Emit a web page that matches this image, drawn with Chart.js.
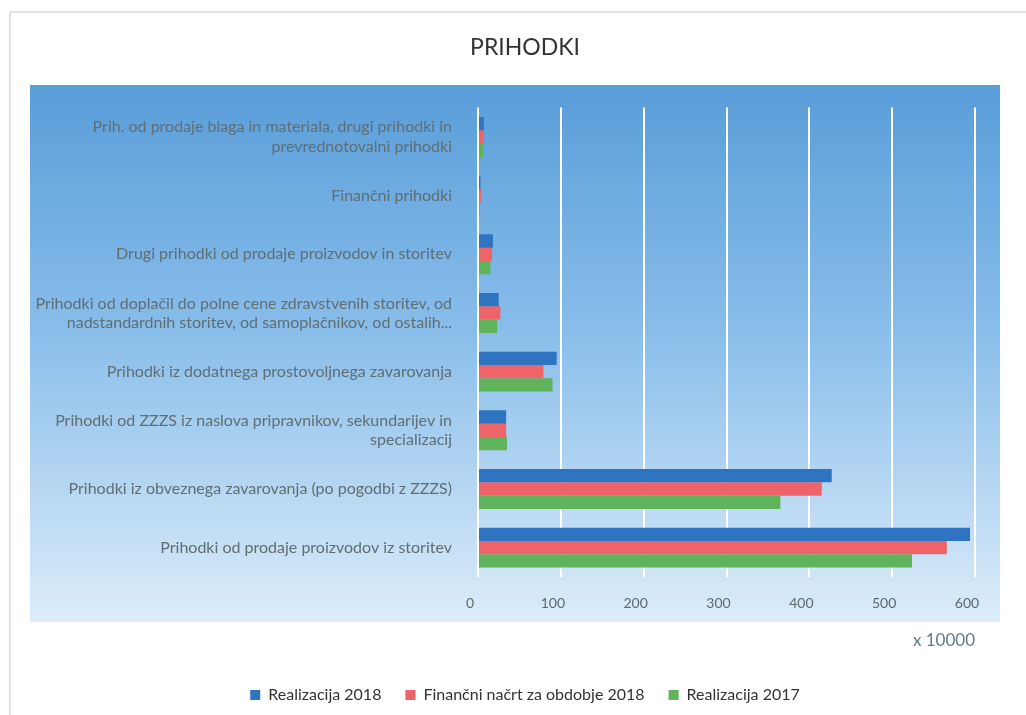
<!DOCTYPE html>
<html lang="sl">
<head>
  <meta charset="UTF-8">
  <title>Prihodki</title>
  <script src="https://cdn.jsdelivr.net/npm/chart.js"></script>
  <style>
    html, body { margin: 0; padding: 0; background: #fff; }
    .wrap { width: 1026px; height: 715px; }
  </style>
</head>
<body>
  <div class="wrap"><canvas id="prihodkiChart" width="1026" height="715"></canvas></div>

  <script>
    // categories, top to bottom
    const categories = [
      ['Prih. od prodaje blaga in materiala, drugi prihodki in', 'prevrednotovalni prihodki'],
      'Finančni prihodki',
      'Drugi prihodki od prodaje proizvodov in storitev',
      ['Prihodki od doplačil do polne cene zdravstvenih storitev, od', 'nadstandardnih storitev, od samoplačnikov, od ostalih...'],
      'Prihodki iz dodatnega prostovoljnega zavarovanja',
      ['Prihodki od ZZZS iz naslova pripravnikov, sekundarijev in', 'specializacij'],
      'Prihodki iz obveznega zavarovanja (po pogodbi z ZZZS)',
      'Prihodki od prodaje proizvodov iz storitev'
    ];

    // values in units of 10000
    const realizacija2018 = [7, 3, 18, 25, 95, 34, 427, 594];
    const financniNacrt2018 = [7, 4, 17, 27, 79, 34, 415, 566];
    const realizacija2017 = [6, 2, 15, 23, 90, 35, 365, 524];

    const xTicks = [0, 100, 200, 300, 400, 500, 600];

    const backdrop = {
      id: 'backdrop',
      afterLayout(chart) {
        // let the long category labels run out to the left edge of the plot panel
        chart.scales.y.left = 30;
      },
      beforeDraw(chart) {
        const ctx = chart.ctx;
        ctx.save();
        ctx.strokeStyle = '#d9d9d9';
        ctx.lineWidth = 1.5;
        ctx.strokeRect(10, 12, 1030, 720);
        const g = ctx.createLinearGradient(0, 85, 0, 622);
        g.addColorStop(0, '#599dd9');
        g.addColorStop(0.45, '#88bdea');
        g.addColorStop(1, '#dcecf9');
        ctx.fillStyle = g;
        ctx.fillRect(30, 85, 970, 537);
        ctx.restore();
      }
    };

    new Chart(document.getElementById('prihodkiChart').getContext('2d'), {
      type: 'bar',
      data: {
        labels: categories,
        datasets: [{
          label: 'Realizacija 2018',
          data: realizacija2018,
          backgroundColor: '#2f74c0'
        }, {
          label: 'Finančni načrt za obdobje 2018',
          data: financniNacrt2018,
          backgroundColor: '#ee6469'
        }, {
          label: 'Realizacija 2017',
          data: realizacija2017,
          backgroundColor: '#5fb35a'
        }]
      },
      options: {
        indexAxis: 'y',
        responsive: false,
        animation: false,
        devicePixelRatio: 1,
        categoryPercentage: 0.68,
        barPercentage: 1.0,
        layout: { padding: { left: 75, right: 51, bottom: 2 } },
        scales: {
          x: {
            min: 0,
            max: 600,
            afterBuildTicks: (scale) => { scale.ticks = xTicks.map(v => ({ value: v })); },
            grid: { color: '#ffffff', lineWidth: 2, drawTicks: false },
            border: { display: false },
            ticks: {
              color: '#5b6a6c',
              font: { family: 'Lato', size: 14 },
              padding: 18,
              labelOffset: -8
            },
            title: {
              display: true,
              text: 'x 10000',
              align: 'end',
              color: '#5d7e86',
              font: { family: 'Lato', size: 17 },
              padding: { top: 10, bottom: 12 }
            },
            afterFit: (scale) => { scale.height = 86; }
          },
          y: {
            grid: { display: false },
            border: { display: false },
            ticks: {
              color: '#5f6e73',
              font: { family: 'Lato', size: 16 },
              padding: 18
            },
            afterFit: (scale) => { scale.width = 403; }
          }
        },
        plugins: {
          title: {
            display: true,
            text: 'PRIHODKI',
            color: '#333333',
            font: { family: 'Lato', size: 23, weight: 'normal' },
            padding: { top: 34, bottom: 46 }
          },
          legend: {
            position: 'bottom',
            labels: {
              color: '#333333',
              font: { family: 'Lato', size: 16 },
              boxWidth: 10,
              boxHeight: 10,
              padding: 24
            }
          },
          tooltip: { enabled: false }
        }
      },
      plugins: [backdrop]
    });
  </script>
</body>
</html>
